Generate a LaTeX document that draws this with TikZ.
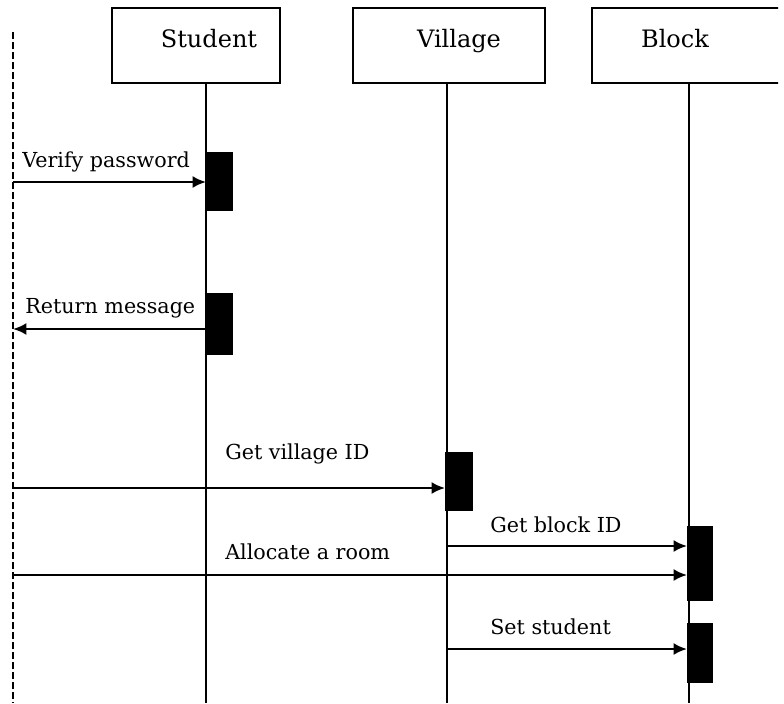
\documentclass[tikz,border=0pt]{standalone}
\usepackage{fontspec}
\setmainfont{DejaVu Serif}
\usetikzlibrary{arrows.meta}

\tikzset{
  headbox/.style={draw, line width=1.5pt, minimum width=#1, minimum height=56.25pt, inner sep=0pt},
  headtext/.style={anchor=base, inner sep=0pt, font=\fontsize{18}{20}\selectfont},
  lifeline/.style={line width=1.5pt},
  actorline/.style={line width=2.2pt, dash pattern=on 5pt off 2.5pt},
  actbar/.style={fill=black, draw=none, inner sep=0pt, minimum width=#1},
  msg/.style={line width=1.8pt, -{Latex[length=10pt,width=9pt]}},
  msglabel/.style={anchor=base west, inner sep=0pt, font=\fontsize{15.5}{18}\selectfont}
}

\begin{document}
\begin{tikzpicture}[x=0.75pt, y=-0.75pt]
  \useasboundingbox (0,0) rectangle (784,703);
  \begin{scope}
  \clip (0,0) rectangle (778,703);

  % actor boundary on the left
  \coordinate (actTop) at (13,32);
  \coordinate (actBot) at (13,703);
  \draw[actorline] (actTop) -- (actBot);

  % object heads
  \node[headbox=126pt] (student) at (196,45.5) {};
  \node[headbox=144pt] (village) at (449,45.5) {};
  \node[headbox=144pt] (block)   at (688,45.5) {};
  \node[headtext] (tStudent) at (209,47) {Student};
  \node[headtext] (tVillage) at (459,47) {Village};
  \node[headtext] (tBlock)   at (675,47) {Block};

  % lifelines
  \coordinate (sTop) at (206,83);  \coordinate (sBot) at (206,703);
  \coordinate (vTop) at (447,83);  \coordinate (vBot) at (447,703);
  \coordinate (bTop) at (689,83);  \coordinate (bBot) at (689,703);
  \draw[lifeline] (sTop) -- (sBot);
  \draw[lifeline] (vTop) -- (vBot);
  \draw[lifeline] (bTop) -- (bBot);

  % activation bars
  \node[actbar=20.25pt, minimum height=44.25pt] (s1) at (219.5,181.5) {};
  \node[actbar=20.25pt, minimum height=46.5pt]  (s2) at (219.5,324)   {};
  \node[actbar=21pt,    minimum height=44.25pt] (v1) at (459,481.5)   {};
  \node[actbar=19.5pt,  minimum height=56.25pt] (b1) at (700,563.5)   {};
  \node[actbar=19.5pt,  minimum height=45pt]    (b2) at (700,653)     {};

  % message end points
  \coordinate (m1a) at (13,182);   \coordinate (m1b) at (206,182);
  \coordinate (m2a) at (206,329);  \coordinate (m2b) at (13,329);
  \coordinate (m3a) at (13,488);   \coordinate (m3b) at (445,488);
  \coordinate (m4a) at (447,546);  \coordinate (m4b) at (687,546);
  \coordinate (m5a) at (13,575);   \coordinate (m5b) at (687,575);
  \coordinate (m6a) at (447,649);  \coordinate (m6b) at (687,649);

  % messages
  \draw[msg] (m1a) -- (m1b);
  \draw[msg] (m2a) -- (m2b);
  \draw[msg] (m3a) -- (m3b);
  \draw[msg] (m4a) -- (m4b);
  \draw[msg] (m5a) -- (m5b);
  \draw[msg] (m6a) -- (m6b);

  % message labels
  \node[msglabel] (l1) at (22,167)  {Verify password};
  \node[msglabel] (l2) at (25,313)  {Return message};
  \node[msglabel] (l3) at (225,459) {Get village ID};
  \node[msglabel] (l4) at (490,532) {Get block ID};
  \node[msglabel] (l5) at (225,559) {Allocate a room};
  \node[msglabel] (l6) at (490,634) {Set student};
  \end{scope}
\end{tikzpicture}
\end{document}
